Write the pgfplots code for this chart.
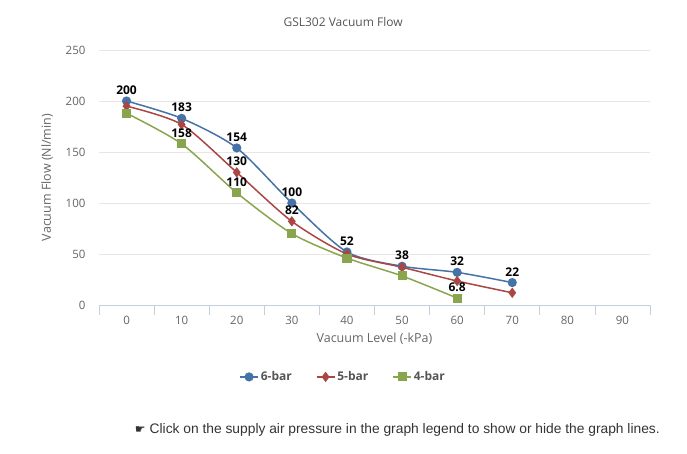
\documentclass[border=0pt]{standalone}
\usepackage{pgfplots}
\pgfplotsset{compat=1.18}
\usepackage{fontspec}
\setmainfont{Open Sans}
\newfontfamily\footfont{Liberation Sans}
\newfontfamily\symfont{DejaVu Sans}
\definecolor{c6}{HTML}{4572A7}
\definecolor{c5}{HTML}{AA4643}
\definecolor{c4}{HTML}{89A54E}
\definecolor{axblue}{HTML}{C0D0E0}
\definecolor{gridc}{HTML}{E6E6E6}
\definecolor{txt}{HTML}{666666}
\definecolor{ttl}{HTML}{555555}
\definecolor{foot}{HTML}{333333}
\begin{document}
\begin{tikzpicture}
\path[use as bounding box] (0,0) rectangle (687pt,453pt);
\begin{axis}[
  at={(99pt,148pt)}, anchor=south west,
  scale only axis, width=551pt, height=255pt,
  xmin=-0.5, xmax=9.5, ymin=0, ymax=250,
  enlargelimits=false,
  axis x line=bottom, axis y line=left,
  x axis line style={color=axblue, -},
  y axis line style={draw=none},
  xtick={-0.5,0.5,...,9.5},
  xticklabels={},
  extra x ticks={0,...,9},
  extra x tick labels={0,10,20,30,40,50,60,70,80,90},
  extra x tick style={major tick length=0pt, tick style={draw=none},
     xticklabel style={yshift=-8pt}},
  major tick length=10pt,
  tick align=outside,
  xtick style={color=axblue, line width=0.8pt},
  ytick={0,50,...,250},
  ytick style={draw=none},
  ymajorgrids, major grid style={color=gridc, line width=0.8pt},
  tick label style={font=\fontsize{11.5}{13}\selectfont, text=txt},
  /pgf/number format/assume math mode=true,
  yticklabel style={xshift=0pt},
  xlabel={Vacuum Level (-kPa)},
  ylabel={Vacuum Flow (Nl/min)},
  label style={font=\fontsize{12.5}{14}\selectfont, text=txt},
  xlabel style={yshift=9pt},
  ylabel style={yshift=6pt},
  title={GSL302 Vacuum Flow},
  title style={font=\fontsize{12}{14}\selectfont, text=ttl, at={(0.443,1)}, yshift=14pt},
  legend style={at={(0.443,-0.282)}, anchor=center, draw=none, legend columns=3,
    font=\bfseries\fontsize{12}{14}\selectfont, text=ttl,
    /tikz/every even column/.append style={column sep=22pt}},
  legend image code/.code={
    \draw[#1, mark repeat=2, mark phase=2] plot coordinates {(0pt,0pt) (9pt,0pt) (18pt,0pt)};},
  clip=false,
]
\addplot[c6, line width=1.5pt, smooth, tension=0.45, mark=*, mark size=3.8pt]
  coordinates {(0,200) (1,183) (2,154) (3,100) (4,52) (5,38) (6,32) (7,22)};
\addlegendentry{6-bar}
\addplot[c5, line width=1.5pt, smooth, tension=0.45, mark=diamond*, mark size=4pt]
  coordinates {(0,195) (1,177) (2,130) (3,82) (4,50) (5,37) (6,23.5) (7,12)};
\addlegendentry{5-bar}
\addplot[c4, line width=1.5pt, smooth, tension=0.45, mark=square*, mark size=3.8pt]
  coordinates {(0,188) (1,158) (2,110) (3,70) (4,46) (5,28.5) (6,6.8)};
\addlegendentry{4-bar}
\addplot[draw=none, mark=none, point meta=explicit symbolic,
  nodes near coords, nodes near coords align={above},
  every node near coord/.append style={font=\bfseries\fontsize{12}{14}\selectfont, text=black, yshift=3pt}]
  coordinates {(0,200) [200] (1,183) [183] (2,154) [154] (3,100) [100] (4,52) [52] (5,38) [38] (6,32) [32] (7,22) [22]
   (2,130) [130] (3,82) [82] (1,158) [158] (2,110) [110] (6,6.8) [6.8]};
\end{axis}
\node[anchor=east, inner sep=0pt, text=foot] at (660pt,23pt) {{\symfont\fontsize{12}{14}\selectfont ☛}\hspace{4pt}{\footfont\fontsize{13.8}{16}\selectfont Click on the supply air pressure in the graph legend to show or hide the graph lines.}};
\end{tikzpicture}
\end{document}
